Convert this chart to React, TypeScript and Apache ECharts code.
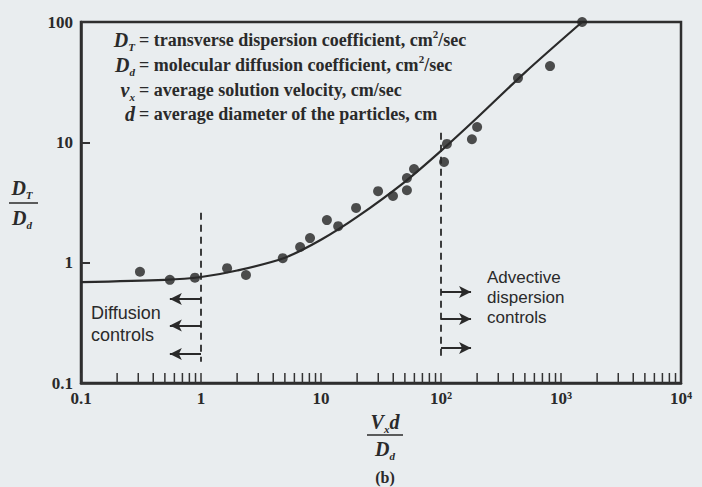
import React, { useEffect, useRef } from "react";
import * as echarts from "echarts";

// Measured points: [Vx·d/Dd, DT/Dd]
const measuredPoints: [number, number][] = [
  [0.31, 0.84],
  [0.55, 0.72],
  [0.89, 0.75],
  [1.65, 0.9],
  [2.37, 0.79],
  [4.8, 1.09],
  [6.7, 1.35],
  [8.1, 1.6],
  [11.2, 2.26],
  [13.9, 2.01],
  [19.6, 2.85],
  [29.9, 3.93],
  [39.8, 3.58],
  [52, 4.0],
  [52, 5.05],
  [59.6, 6.0],
  [106, 6.86],
  [112, 9.7],
  [181, 10.6],
  [200, 13.4],
  [438, 34.2],
  [810, 43],
  [1500, 100],
];

// Fitted trend curve
const trendCurve: [number, number][] = [
  [0.1, 0.69],
  [0.5, 0.72],
  [1, 0.76],
  [2, 0.86],
  [5, 1.1],
  [10, 1.55],
  [20, 2.4],
  [50, 4.7],
  [100, 8.5],
  [200, 16],
  [500, 38],
  [1500, 100],
];

// Regime boundaries (vertical dashed lines): [x, yFrom, yTo]
const regimeBoundaries: [number, number, number][] = [
  [1, 2.6, 0.15],
  [100, 12, 0.16],
];

// Arrows: [xFrom, xTo, y]
const diffusionArrows: [number, number, number][] = [
  [1, 0.55, 0.5],
  [1, 0.55, 0.3],
  [1, 0.55, 0.174],
];
const advectiveArrows: [number, number, number][] = [
  [100, 178, 0.57],
  [100, 178, 0.34],
  [100, 178, 0.195],
];

// Intermediate ticks along the x axis
const xMinorTicks = [
  0.2, 0.3, 0.4, 0.5, 0.6, 0.7, 0.8, 0.9,
  2, 3, 4, 5, 6, 7, 8, 9,
  20, 30, 40, 50, 60, 70, 80, 90,
  200, 300, 400, 500, 600, 700, 800, 900,
  2000, 3000, 4000, 5000, 6000, 7000, 8000, 9000,
];

const xTickLabels = ["0.1", "1", "10", "10²", "10³", "10⁴"];
const yTickLabels = ["0.1", "1", "10", "100"];

const legendLines: { sym: string; desc: string; y: number }[] = [
  { sym: "{v|D}{s|T}", desc: "= transverse dispersion coefficient, cm{p|2}/sec", y: 40 },
  { sym: "{v|D}{s|d}", desc: "= molecular diffusion coefficient, cm{p|2}/sec", y: 65 },
  { sym: "{v|v}{s|x}", desc: "= average solution velocity, cm/sec", y: 90 },
  { sym: "{v|d}", desc: "= average diameter of the particles, cm", y: 114 },
];

const INK = "#2a2a2a";
const SERIF = "'Liberation Serif', 'DejaVu Serif', serif";
const SANS = "'Liberation Sans', 'DejaVu Sans', sans-serif";

const richSym = {
  v: { fontFamily: SERIF, fontStyle: "italic", fontWeight: "bold", fontSize: 20, lineHeight: 24, fill: INK },
  s: { fontFamily: SERIF, fontStyle: "italic", fontWeight: "bold", fontSize: 11, verticalAlign: "bottom", fill: INK },
};
const richDesc = {
  t: { fontFamily: SERIF, fontWeight: "bold", fontSize: 18, lineHeight: 24, fill: INK },
  p: { fontFamily: SERIF, fontWeight: "bold", fontSize: 11, verticalAlign: "top", fill: INK },
};

function lg(v: number) {
  return Math.round(Math.log10(v));
}

export default function App() {
  const ref = useRef<HTMLDivElement>(null);

  useEffect(() => {
    if (!ref.current) return;
    const chart = echarts.init(ref.current, null, { renderer: "svg" });

    const arrowLines = [...diffusionArrows, ...advectiveArrows].map(([x0, x1, y]) => [
      { coord: [x0, y], symbol: "none" },
      { coord: [x1, y], symbol: "arrow", symbolSize: [9, 12] },
    ]);
    const dashedLines = regimeBoundaries.map(([x, y0, y1]) => [
      { coord: [x, y0], symbol: "none", lineStyle: { type: [7, 5], width: 1.8 } },
      { coord: [x, y1], symbol: "none" },
    ]);

    const graphic: any[] = [];
    legendLines.forEach((l) => {
      graphic.push({
        type: "text",
        x: 135,
        y: l.y,
        style: {
          text: l.sym,
          rich: richSym,
          align: "right",
          verticalAlign: "middle",
        },
      });
      graphic.push({
        type: "text",
        x: 139,
        y: l.y,
        style: {
          text: "{t|" + l.desc.replace(/\{p\|2\}/g, "}{p|2}{t|") + "}",
          rich: richDesc,
          align: "left",
          verticalAlign: "middle",
        },
      });
    });

    // Region notes
    const noteStyle = { fontFamily: SANS, fontSize: 17, fill: INK };
    graphic.push({
      type: "text",
      x: 91,
      y: 324,
      style: { text: "Diffusion\ncontrols", ...noteStyle, fontSize: 18, lineHeight: 22, align: "left", verticalAlign: "middle" },
    });
    graphic.push({
      type: "text",
      x: 487,
      y: 297,
      style: { text: "Advective\ndispersion\ncontrols", ...noteStyle, lineHeight: 20, align: "left", verticalAlign: "middle" },
    });

    // y-axis title  DT / Dd
    graphic.push({
      type: "text",
      x: 22,
      y: 188,
      style: { text: "{v|D}{s|T}", rich: richSym, align: "center", verticalAlign: "middle" },
    });
    graphic.push({
      type: "line",
      shape: { x1: 9, y1: 203, x2: 38, y2: 203 },
      style: { stroke: INK, lineWidth: 1.5 },
    });
    graphic.push({
      type: "text",
      x: 22,
      y: 218,
      style: { text: "{v|D}{s|d}", rich: richSym, align: "center", verticalAlign: "middle" },
    });

    // x-axis title  Vx d / Dd
    graphic.push({
      type: "text",
      x: 385,
      y: 422,
      style: { text: "{v|V}{s|x}{v|d}", rich: richSym, align: "center", verticalAlign: "middle" },
    });
    graphic.push({
      type: "line",
      shape: { x1: 367, y1: 435, x2: 403, y2: 435 },
      style: { stroke: INK, lineWidth: 1.5 },
    });
    graphic.push({
      type: "text",
      x: 385,
      y: 449,
      style: { text: "{v|D}{s|d}", rich: richSym, align: "center", verticalAlign: "middle" },
    });
    graphic.push({
      type: "text",
      x: 385,
      y: 477,
      style: { text: "(b)", fontFamily: SERIF, fontSize: 16, fontWeight: "bold", fill: INK, align: "center", verticalAlign: "middle" },
    });

    chart.setOption({
      animation: false,
      backgroundColor: "#e9edef",
      grid: {
        left: 81,
        right: 21,
        top: 22,
        bottom: 104,
        show: true,
        borderColor: "#2e2e2e",
        borderWidth: 2.5,
        backgroundColor: "transparent",
      },
      xAxis: {
        type: "log",
        logBase: 10,
        min: 0.1,
        max: 10000,
        axisLine: { lineStyle: { color: "#2e2e2e", width: 2.5 } },
        axisTick: { show: true, inside: true, length: 10, lineStyle: { color: "#333", width: 1.5 } },
        splitLine: { show: false },
        axisLabel: {
          margin: 7,
          fontFamily: SERIF,
          fontSize: 17,
          fontWeight: "bold",
          color: INK,
          formatter: (v: number) => xTickLabels[lg(v) + 1] ?? "",
        },
      },
      yAxis: {
        type: "log",
        logBase: 10,
        min: 0.1,
        max: 100,
        axisLine: { lineStyle: { color: "#2e2e2e", width: 2.5 } },
        axisTick: { show: true, inside: true, length: 9, lineStyle: { color: "#333", width: 2 } },
        splitLine: { show: false },
        axisLabel: {
          margin: 8,
          fontFamily: SERIF,
          fontSize: 17,
          fontWeight: "bold",
          color: INK,
          formatter: (v: number) => yTickLabels[lg(v) + 1] ?? "",
        },
      },
      graphic,
      series: [
        {
          type: "custom",
          name: "minor ticks",
          silent: true,
          data: xMinorTicks.map((v) => [v, 0.1]),
          renderItem: (_p: any, api: any) => {
            const pt = api.coord([api.value(0), api.value(1)]);
            return {
              type: "line",
              shape: { x1: pt[0], y1: pt[1], x2: pt[0], y2: pt[1] - 10 },
              style: { stroke: "#333", lineWidth: 1.5 },
            };
          },
        },
        {
          type: "line",
          name: "trend",
          data: trendCurve,
          smooth: 0.3,
          showSymbol: false,
          lineStyle: { color: INK, width: 2.2 },
          silent: true,
          markLine: {
            silent: true,
            animation: false,
            label: { show: false },
            lineStyle: { color: INK, width: 2, type: "solid" },
            data: [...dashedLines, ...arrowLines],
          },
        },
        {
          type: "scatter",
          name: "measured",
          data: measuredPoints,
          symbol: "circle",
          symbolSize: 10,
          clip: false,
          itemStyle: { color: "#232323" },
          silent: true,
        },
      ],
    });

    return () => chart.dispose();
  }, []);

  return (
    <div
      ref={ref}
      style={{ position: "fixed", left: 0, top: 0, width: 702, height: 487 }}
    />
  );
}
